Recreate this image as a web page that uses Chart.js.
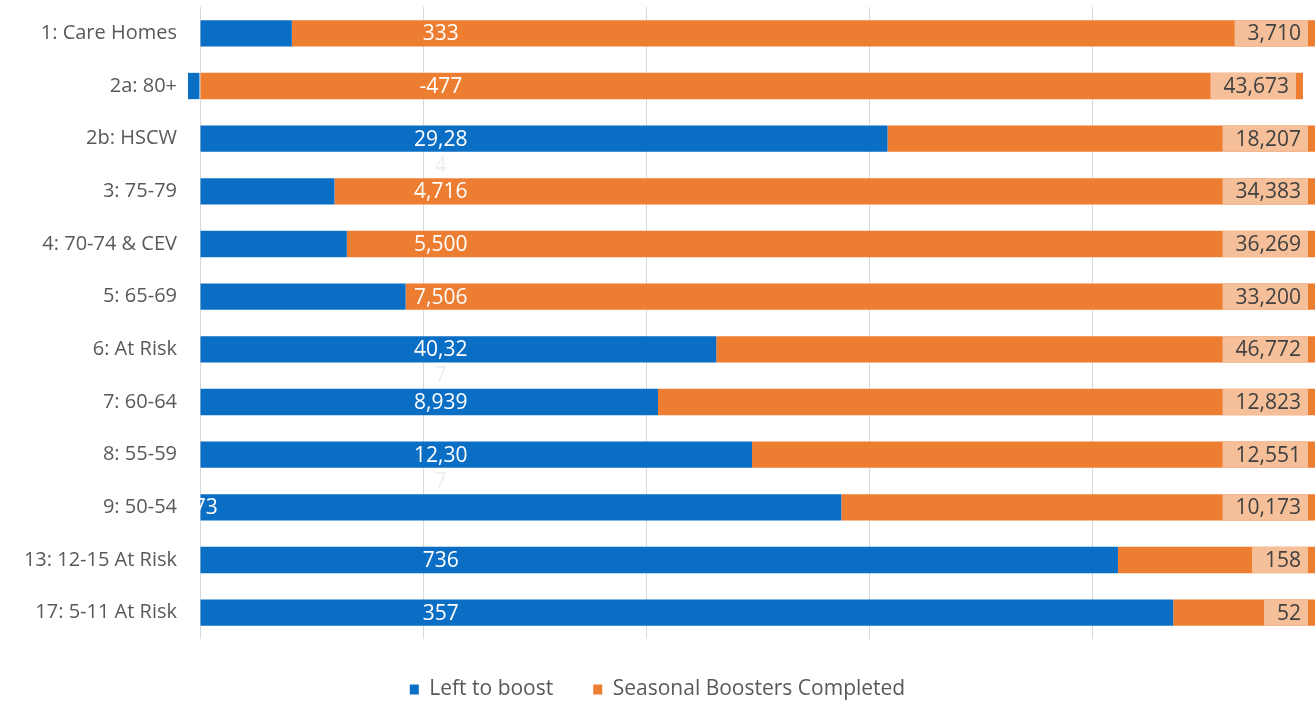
<!DOCTYPE html>
<html>
<head>
<meta charset="utf-8">
<script src="https://cdn.jsdelivr.net/npm/chart.js@4/dist/chart.umd.min.js"></script>
<style>
  html, body { margin: 0; padding: 0; background: #fff; }
  #wrap { width: 1315px; height: 701px; position: relative; }
</style>
</head>
<body>
<div id="wrap"><canvas id="boosterChart"></canvas></div>
<script>
const groups = [
  "1: Care Homes", "2a: 80+", "2b: HSCW", "3: 75-79", "4: 70-74 & CEV", "5: 65-69",
  "6: At Risk", "7: 60-64", "8: 55-59", "9: 50-54", "13: 12-15 At Risk", "17: 5-11 At Risk"
];
const leftToBoost = [333, -477, 29284, 4716, 5500, 7506, 40327, 8939, 12307, 13773, 736, 357];
const boostersDone = [3710, 43673, 18207, 34383, 36269, 33200, 46772, 12823, 12551, 10173, 158, 52];
const gridSteps = [0, 20, 40, 60, 80, 100];

const BLUE = "#0b6ec5";
const ORANGE = "#ed7d31";
const LABEL_BOX = "#f5bf99";
const FONT = "'Open Sans', Lato, sans-serif";

// 100% stacked: share of each row's absolute total
const totals = leftToBoost.map((v, i) => Math.abs(v) + Math.abs(boostersDone[i]));
const leftPct = leftToBoost.map((v, i) => v / totals[i] * 100);
const donePct = boostersDone.map((v, i) => v / totals[i] * 100);

const fmt = v => v.toLocaleString("en-GB");

// value labels: blue ones sit near the 20% line, orange ones in a box at the bar end
const valueLabels = {
  id: "valueLabels",
  afterDatasetsDraw(chart) {
    const { ctx, chartArea, scales } = chart;
    const x = scales.x;
    ctx.save();
    ctx.font = "21px " + FONT;
    ctx.textBaseline = "middle";

    const blueMeta = chart.getDatasetMeta(0);
    blueMeta.data.forEach((bar, i) => {
      let txt = fmt(leftToBoost[i]);
      const y = bar.y + 1;
      ctx.fillStyle = "#ffffff";
      if (i === 9) {
        // this one landed against the axis and is cut off at the plot edge
        ctx.save();
        ctx.beginPath();
        ctx.rect(chartArea.left, chartArea.top, chartArea.right - chartArea.left, chartArea.bottom - chartArea.top);
        ctx.clip();
        ctx.textAlign = "right";
        ctx.fillText(txt, x.getPixelForValue(1.6), y);
        ctx.restore();
        return;
      }
      let extra = "";
      if (txt.length > 5) { extra = txt.slice(5); txt = txt.slice(0, 5); }
      ctx.textAlign = "center";
      ctx.fillText(txt, x.getPixelForValue(21.6), y);
      if (extra) {
        ctx.fillStyle = "#eeeeee";
        ctx.fillText(extra, x.getPixelForValue(21.6), y + 26);
      }
    });

    const orangeMeta = chart.getDatasetMeta(1);
    orangeMeta.data.forEach((bar, i) => {
      const txt = fmt(boostersDone[i]);
      const w = ctx.measureText(txt).width;
      const right = bar.x - 7;
      const h = bar.height;
      ctx.fillStyle = LABEL_BOX;
      ctx.fillRect(right - w - 20, bar.y - h / 2, w + 20, h);
      ctx.fillStyle = "#404040";
      ctx.textAlign = "right";
      ctx.fillText(txt, right - 7, bar.y + 1);
    });
    ctx.restore();
  }
};

new Chart(document.getElementById("boosterChart"), {
  type: "bar",
  data: {
    labels: groups,
    datasets: [
      {
        label: "Left to boost",
        data: leftPct,
        backgroundColor: BLUE,
        barPercentage: 0.5,
        categoryPercentage: 1,
        clip: false
      },
      {
        label: "Seasonal Boosters Completed",
        data: donePct,
        backgroundColor: ORANGE,
        barPercentage: 0.5,
        categoryPercentage: 1,
        clip: false
      }
    ]
  },
  options: {
    indexAxis: "y",
    responsive: true,
    maintainAspectRatio: false,
    animation: false,
    layout: { padding: { top: 7, right: 0, bottom: 0, left: 0 } },
    plugins: {
      legend: {
        position: "bottom",
        maxHeight: 62,
        labels: {
          color: "#595959",
          font: { family: FONT, size: 21 },
          boxWidth: 9,
          boxHeight: 10,
          padding: 40
        }
      },
      tooltip: { enabled: false }
    },
    scales: {
      x: {
        stacked: true,
        min: 0,
        max: 100,
        afterBuildTicks: s => { s.ticks = gridSteps.map(v => ({ value: v })); },
        afterFit: s => { s.height = 0; },
        ticks: { display: false },
        grid: { color: "#d9d9d9", drawTicks: false },
        border: { display: false }
      },
      y: {
        stacked: true,
        afterFit: s => { s.width = 200; s.paddingTop = 0; s.paddingBottom = 0; },
        ticks: {
          color: "#595959",
          font: { family: FONT, size: 20 },
          padding: 0
        },
        grid: { display: false, drawTicks: true, tickLength: 23, tickColor: "rgba(0,0,0,0)" },
        border: { display: false }
      }
    }
  },
  plugins: [valueLabels]
});
</script>
</body>
</html>
